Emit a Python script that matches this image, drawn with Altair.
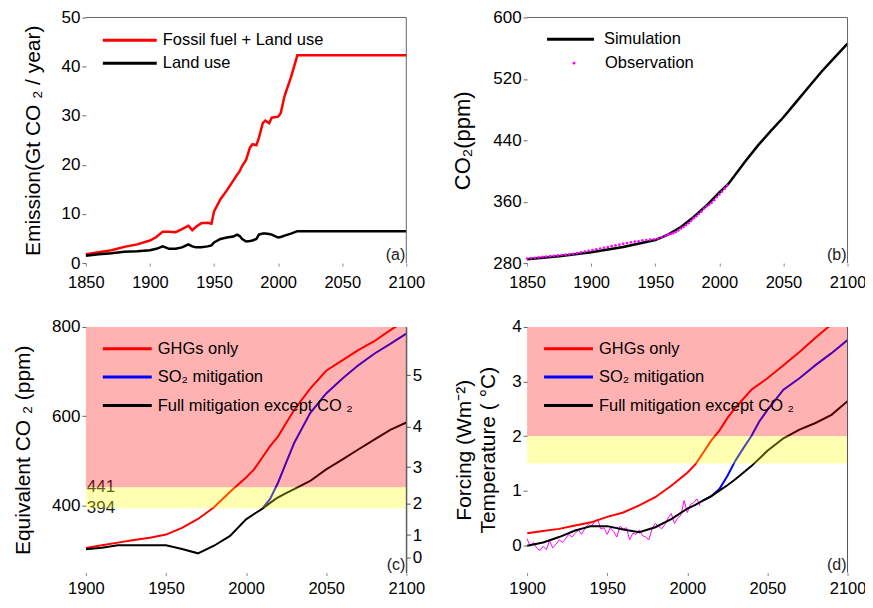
import altair as alt
import pandas as pd

FONT = "Liberation Sans"

# ---------------- Panel (a): emissions (Gt CO2 / year) ----------------
years_a = [1850, 1860, 1870, 1880, 1890, 1900, 1905, 1910, 1915, 1920, 1925, 1930, 1933,
           1936, 1940, 1945, 1948, 1950, 1955, 1960, 1965, 1968, 1970, 1972, 1975, 1978,
           1980, 1983, 1985, 1988, 1990, 1993, 1995, 2000, 2002, 2005, 2010, 2015, 2100]
fossil_land = [1.8, 2.2, 2.6, 3.3, 3.8, 4.6, 5.3, 6.4, 6.4, 6.3, 6.9, 7.6, 6.7,
               7.4, 8.1, 8.2, 8.0, 10.5, 13.0, 14.8, 16.8, 18.0, 18.7, 19.8, 21.0, 23.5,
               24.2, 24.0, 25.5, 28.5, 29.0, 28.5, 29.6, 29.8, 30.5, 34.0, 37.8, 42.3, 42.3]
land_use = [1.5, 1.8, 2.0, 2.3, 2.4, 2.6, 2.9, 3.4, 2.9, 2.9, 3.2, 3.8, 3.4,
            3.2, 3.2, 3.4, 3.6, 4.2, 4.9, 5.2, 5.4, 5.8, 5.5, 4.9, 4.4, 4.5,
            4.6, 4.9, 5.8, 6.0, 6.0, 5.9, 5.8, 5.2, 5.3, 5.6, 6.0, 6.5, 6.5]
series_a = ["Fossil fuel + Land use", "Land use"]

# ---------------- Panel (b): CO2 concentration (ppm) ----------------
years_sim = [1850, 1875, 1900, 1925, 1950, 1960, 1970, 1980, 1990, 2000, 2007, 2020,
             2030, 2040, 2050, 2060, 2070, 2080, 2090, 2100]
co2_sim = [285, 289, 294, 301, 310, 317, 327, 340, 355, 372, 383, 412,
           433, 452, 470, 490, 510, 530, 548, 566]
years_obs = [1850, 1853, 1856, 1859, 1862, 1865, 1868, 1871, 1874, 1877, 1880, 1883, 1886,
             1889, 1892, 1895, 1898, 1901, 1904, 1907, 1910, 1913, 1916, 1919, 1922, 1925,
             1928, 1931, 1934, 1937, 1940, 1943, 1946, 1949, 1952, 1955, 1958, 1960, 1962,
             1964, 1966, 1968, 1970, 1972, 1974, 1976, 1978, 1980, 1982, 1984, 1986, 1988,
             1990, 1992, 1994, 1996, 1998, 2000, 2002, 2004, 2006]
co2_obs = [286, 286.5, 287, 287.5, 288, 288.5, 289, 289.5, 290, 290.5, 291, 291.5, 292,
           293, 294, 295, 296, 297, 298, 299, 300, 301, 302, 303, 304, 305,
           306, 307, 308, 308.5, 309.5, 310, 310.5, 311, 312, 313.5, 315.5, 317, 318,
           319, 320.5, 322.5, 325, 327, 329.5, 332, 335, 338.5, 341, 344, 347, 351,
           354, 356, 358.5, 362, 366, 369.5, 373, 377, 381]

# ---------------- Panel (c): equivalent CO2 (ppm) ----------------
years_c = [1900, 1910, 1920, 1930, 1940, 1950, 1960, 1970, 1980, 1990, 2000, 2005,
           2010, 2015, 2020, 2025, 2030, 2040, 2050, 2060, 2070, 2080, 2090, 2100]
eq_ghg = [305, 311, 317, 323, 328, 335, 350, 370, 396, 431, 463, 481,
          507, 533, 555, 585, 614, 662, 702, 725, 748, 768, 793, 815]
eq_full = [302, 305.5, 311, 311, 311, 311, 302.6, 293, 310, 332, 369, 381,
           392.6, 406, 418.5, 428, 437, 455, 481, 503, 525.5, 547.6, 569.7, 586]
years_so2 = [2010, 2015, 2020, 2025, 2030, 2040, 2050, 2060, 2070, 2080, 2090, 2100]
eq_so2 = [392.6, 414.8, 451.7, 496, 540, 607, 651, 684, 714, 740, 762, 785]
band_c = [394, 441, 800]
forcing_ticks_ppm = [283, 334, 405, 486, 577, 692]
forcing_labels = ["0", "1", "2", "3", "4", "5"]

# ---------------- Panel (d): temperature (deg C) ----------------
temp_ghg = [0.22, 0.26, 0.30, 0.36, 0.42, 0.52, 0.60, 0.73, 0.88, 1.09, 1.33, 1.48,
            1.70, 1.92, 2.10, 2.33, 2.52, 2.85, 3.06, 3.30, 3.54, 3.80, 4.05, 4.30]
temp_full = [-0.01, 0.05, 0.15, 0.27, 0.35, 0.35, 0.29, 0.24, 0.33, 0.48, 0.67, 0.74,
             0.82, 0.90, 1.00, 1.10, 1.21, 1.45, 1.73, 1.96, 2.12, 2.24, 2.39, 2.64]
years_so2_d = [2010, 2015, 2020, 2025, 2030, 2035, 2040, 2045, 2050, 2060, 2070, 2080, 2090, 2100]
temp_so2 = [0.82, 0.90, 1.03, 1.27, 1.55, 1.78, 2.00, 2.27, 2.48, 2.85, 3.06, 3.30, 3.52, 3.76]
years_tobs = [1900, 1902, 1904, 1906, 1908, 1910, 1912, 1914, 1916, 1918, 1920, 1922, 1924,
              1926, 1928, 1930, 1932, 1934, 1936, 1938, 1940, 1942, 1944, 1946, 1948, 1950,
              1952, 1954, 1956, 1958, 1960, 1962, 1964, 1966, 1968, 1970, 1972, 1974, 1976,
              1978, 1980, 1982, 1984, 1986, 1988, 1990, 1992, 1994, 1996, 1998, 2000, 2002,
              2004, 2006, 2008]
temp_obs = [0.12, -0.02, 0.05, -0.05, -0.10, -0.02, -0.08, 0.08, -0.05, 0.02, 0.10, 0.05, 0.12,
            0.20, 0.15, 0.22, 0.28, 0.20, 0.30, 0.38, 0.35, 0.42, 0.48, 0.30, 0.32, 0.20,
            0.32, 0.25, 0.15, 0.35, 0.30, 0.32, 0.10, 0.22, 0.20, 0.28, 0.18, 0.15, 0.10,
            0.30, 0.40, 0.35, 0.30, 0.38, 0.50, 0.58, 0.40, 0.50, 0.55, 0.82, 0.60, 0.75,
            0.78, 0.85, 0.72]
band_d = [1.5, 2, 4]
series_cd = ["GHGs only", "SO₂ mitigation", "Full mitigation except CO ₂"]

W, H = 321, 246
one = pd.DataFrame({"k": [0]})


def x_axis(values, pad):
    return alt.Axis(values=values, format="d", labelFlush=False, labelOverlap=False,
                    domain=False, grid=False, tickSize=3, tickColor="#888",
                    labelPadding=pad, labelFontSize=16.5, labelColor="black", title=None)


def y_axis(values, title, tpad, tsize=21):
    return alt.Axis(values=values, format="d", labelFlush=False, labelOverlap=False,
                    domain=False, grid=False, tickSize=4, tickColor="#666", labelPadding=2,
                    labelFontSize=17, labelColor="black", title=title, titleFontSize=tsize,
                    titleFontWeight="normal", titleColor="black", titlePadding=tpad,
                    titleLineHeight=24)


def line_legend(x0, yc, length, label_x, row_gap, sw=3):
    # row_gap: distance between row centres
    h = length / 2.0
    sym_off = h - 9.5
    return alt.Legend(title=None, orient="none", legendX=x0, legendY=yc - 8.75,
                      direction="vertical", padding=0,
                      symbolType=f"M{-h / 8:.4f},0L{h / 8:.4f},0", symbolSize=256,
                      symbolStrokeWidth=sw, symbolOffset=sym_off,
                      labelOffset=label_x - x0 - 19 - sym_off, labelFontSize=16.5,
                      labelLimit=500, labelColor="black", rowPadding=row_gap - 17.5)


def panel_label(text, x, y):
    return alt.Chart(one).mark_text(text=text, align="right", baseline="bottom",
                                    fontSize=16, dx=-1, color="#222").encode(
        x=alt.datum(x), y=alt.datum(y))


# ---------------- (a) ----------------
df_a = pd.DataFrame({"year": years_a + years_a, "value": fossil_land + land_use,
                     "series": [series_a[0]] * len(years_a) + [series_a[1]] * len(years_a)})
lines_a = alt.Chart(df_a).mark_line(strokeWidth=2.5).encode(
    x=alt.X("year:Q", scale=alt.Scale(domain=[1850, 2100], nice=False, zero=False),
            axis=x_axis([1850, 1900, 1950, 2000, 2050, 2100], 8)),
    y=alt.Y("value:Q", scale=alt.Scale(domain=[0, 50], nice=False),
            axis=y_axis([0, 10, 20, 30, 40, 50], "Emission(Gt CO ₂ / year)", 18)),
    color=alt.Color("series:N", scale=alt.Scale(domain=series_a, range=["#ff0000", "#000000"]),
                    legend=line_legend(17, 22, 54, 77, 22.5)),
)
top_a = alt.Chart(one).mark_rule(color="#666").encode(y=alt.datum(50))
right_a = alt.Chart(one).mark_rule(color="#666").encode(x=alt.datum(2100))
pa = alt.layer(lines_a, top_a, right_a, panel_label("(a)", 2100, 0)).properties(width=W, height=H)

# ---------------- (b) ----------------
df_sim = pd.DataFrame({"year": years_sim, "value": co2_sim, "s": "Simulation"})
df_obs = pd.DataFrame({"year": years_obs, "value": co2_obs, "o": "Observation"})
line_b = alt.Chart(df_sim).mark_line(strokeWidth=2.5).encode(
    x=alt.X("year:Q", scale=alt.Scale(domain=[1850, 2100], nice=False, zero=False),
            axis=x_axis([1850, 1900, 1950, 2000, 2050, 2100], 8)),
    y=alt.Y("value:Q", scale=alt.Scale(domain=[280, 600], nice=False, zero=False),
            axis=y_axis(list(range(280, 601, 40)), "CO₂(ppm)", 18, 22)),
    color=alt.Color("s:N", scale=alt.Scale(domain=["Simulation"], range=["#000000"]),
                    legend=line_legend(20, 21, 47, 77, 23)),
)
dots_b = alt.Chart(df_obs).mark_circle(size=7, opacity=1).encode(
    x="year:Q", y="value:Q",
    fill=alt.Fill("o:N", scale=alt.Scale(domain=["Observation"], range=["#ff00ff"]),
                  legend=alt.Legend(title=None, orient="none", legendX=38.75, legendY=37.5,
                                    padding=0, symbolType="circle", symbolSize=8,
                                    symbolStrokeWidth=0, labelOffset=22.75,
                                    labelFontSize=16.5, labelColor="black")),
)
top_b = alt.Chart(one).mark_rule(color="#666").encode(y=alt.datum(600))
right_b = alt.Chart(one).mark_rule(color="#666").encode(x=alt.datum(2100))
pb = alt.layer(line_b, dots_b, top_b, right_b, panel_label("(b)", 2100, 280)).properties(
    width=W, height=H)

# ---------------- (c) ----------------
df_c = pd.DataFrame({
    "year": years_c + years_so2 + years_c,
    "value": eq_ghg + eq_so2 + eq_full,
    "series": [series_cd[0]] * len(years_c) + [series_cd[1]] * len(years_so2)
    + [series_cd[2]] * len(years_c),
})
lines_c = alt.Chart(df_c).mark_line(strokeWidth=2, clip=True).encode(
    x=alt.X("year:Q", scale=alt.Scale(domain=[1900, 2100], nice=False, zero=False),
            axis=x_axis([1900, 1950, 2000, 2050, 2100], 5)),
    y=alt.Y("value:Q", scale=alt.Scale(domain=[250, 800], nice=False, zero=False),
            axis=y_axis([400, 600, 800], "Equivalent CO ₂ (ppm)", 18)),
    color=alt.Color("series:N",
                    scale=alt.Scale(domain=series_cd, range=["#ff0000", "#0000ff", "#000000"]),
                    legend=line_legend(17, 21, 49, 72, 28)),
)
nums_c = alt.Chart(one).mark_text(text="441", align="left", baseline="middle", fontSize=17,
                                  color="#222", dx=1).encode(x=alt.datum(1900), y=alt.datum(band_c[1]))
nums_c2 = alt.Chart(one).mark_text(text="394", align="left", baseline="middle", fontSize=17,
                                   color="#222", dx=1).encode(x=alt.datum(1900), y=alt.datum(band_c[0]))
red_c = alt.Chart(one).mark_rect(color="#ff0000", opacity=0.3).encode(
    x=alt.datum(1900), x2=alt.datum(2100), y=alt.datum(band_c[1]), y2=alt.datum(band_c[2]))
yel_c = alt.Chart(one).mark_rect(color="#ffff00", opacity=0.3).encode(
    x=alt.datum(1900), x2=alt.datum(2100), y=alt.datum(band_c[0]), y2=alt.datum(band_c[1]))
inner_c = alt.layer(lines_c, nums_c, nums_c2, red_c, yel_c, panel_label("(c)", 2100, 250))

forcing_expr = " : ".join(
    f"datum.value == {v} ? '{l}'" for v, l in zip(forcing_ticks_ppm, forcing_labels)) + " : ''"
right_c = alt.Chart(one).mark_rule(color="#555").encode(
    x=alt.datum(2100),
    y=alt.YDatum(250, axis=alt.Axis(orient="right", values=forcing_ticks_ppm,
                                    labelExpr=forcing_expr, title=None, domain=True,
                                    domainColor="#555", grid=False, tickSize=4,
                                    tickColor="#555", labelPadding=2, labelFontSize=17,
                                    labelColor="black", labelFlush=False)),
    y2=alt.datum(800),
)
pc = alt.layer(inner_c, right_c).resolve_axis(y="independent").properties(width=W, height=H)

# ---------------- (d) ----------------
df_d = pd.DataFrame({
    "year": years_c + years_so2_d + years_c,
    "value": temp_ghg + temp_so2 + temp_full,
    "series": [series_cd[0]] * len(years_c) + [series_cd[1]] * len(years_so2_d)
    + [series_cd[2]] * len(years_c),
})
df_tobs = pd.DataFrame({"year": years_tobs, "value": temp_obs})
lines_d = alt.Chart(df_d).mark_line(strokeWidth=2, clip=True).encode(
    x=alt.X("year:Q", scale=alt.Scale(domain=[1900, 2100], nice=False, zero=False),
            axis=x_axis([1900, 1950, 2000, 2050, 2100], 5)),
    y=alt.Y("value:Q", scale=alt.Scale(domain=[-0.5, 4], nice=False, zero=False),
            axis=y_axis([0, 1, 2, 3, 4], ["Forcing (Wm⁻²)", "Temperature ( °C)"], 13)),
    color=alt.Color("series:N",
                    scale=alt.Scale(domain=series_cd, range=["#ff0000", "#0000ff", "#000000"]),
                    legend=line_legend(17, 21, 49, 72, 28)),
)
obs_d = alt.Chart(df_tobs).mark_line(strokeWidth=1, color="#ff00ff").encode(
    x="year:Q", y="value:Q")
red_d = alt.Chart(one).mark_rect(color="#ff0000", opacity=0.3).encode(
    x=alt.datum(1900), x2=alt.datum(2100), y=alt.datum(band_d[1]), y2=alt.datum(band_d[2]))
yel_d = alt.Chart(one).mark_rect(color="#ffff00", opacity=0.3).encode(
    x=alt.datum(1900), x2=alt.datum(2100), y=alt.datum(band_d[0]), y2=alt.datum(band_d[1]))
right_d = alt.Chart(one).mark_rule(color="#555").encode(x=alt.datum(2100))
pd_ = alt.layer(obs_d, lines_d, red_d, yel_d, right_d, panel_label("(d)", 2100, -0.5)).properties(
    width=W, height=H)

chart = alt.concat(pa, pb, pc, pd_, columns=2, spacing={"row": 64, "column": 121},
                   bounds="flush").resolve_scale(
    color="independent", fill="independent"
).resolve_legend(color="independent", fill="independent").properties(
    padding={"left": 4, "top": 0, "right": -1.5, "bottom": -1.5}
).configure(font=FONT).configure_view(strokeWidth=0)

chart.save("out.html", embed_options={"renderer": "svg", "actions": False})
